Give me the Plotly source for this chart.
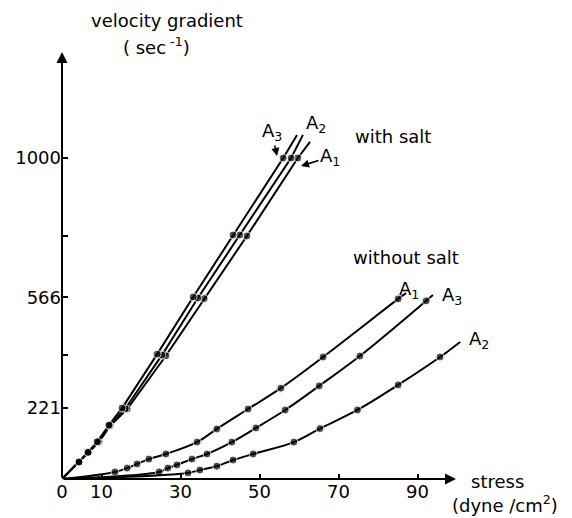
import plotly.graph_objects as go

# ---------------- data ----------------
# with salt: stress (dyne/cm2) vs velocity gradient (sec-1); first = origin, last = line end (no marker)
salt_A1_x = [0, 4.3, 6.6, 9.4, 12.2, 16.5, 26.3, 36.0, 46.8, 59.7, 62.8]
salt_A1_y = [0, 53, 83, 116, 166, 218, 384, 562, 757, 1000, 1050]
salt_A2_x = [0, 4.3, 6.6, 9.2, 12.0, 16.0, 25.3, 34.4, 45.0, 58.0, 61.0]
salt_A2_y = [0, 53, 83, 116, 166, 219, 386, 564, 760, 1000, 1072]
salt_A3_x = [0, 4.3, 6.6, 8.9, 11.9, 15.2, 24.1, 33.2, 43.3, 56.0, 59.5]
salt_A3_y = [0, 53, 83, 116, 168, 221, 389, 567, 760, 1000, 1072]

# without salt
nosalt_A1_x = [0, 13.4, 16.5, 19.0, 22.0, 26.3, 34.2, 39.2, 47.1, 55.4, 66.1, 85.1, 87.1]
nosalt_A1_y = [0, 22, 34, 47, 62, 78, 115, 156, 218, 283, 380, 561, 579]
nosalt_A3_x = [0, 24.6, 26.8, 29.1, 32.9, 36.7, 43.0, 49.1, 56.5, 65.1, 75.4, 92.2, 93.9]
nosalt_A3_y = [0, 22, 34, 44, 62, 78, 115, 159, 215, 290, 383, 555, 573]
nosalt_A2_x = [0, 31.9, 34.9, 39.2, 43.3, 48.4, 58.7, 65.3, 74.8, 85.1, 95.7, 100.8]
nosalt_A2_y = [0, 19, 28, 40, 59, 78, 115, 157, 215, 293, 380, 427]

x_tick_vals = [0, 10, 30, 50, 70, 90]
x_tick_text = ["0", "10", "30", "50", "70", "90"]
y_tick_vals = [221, 386, 566, 757, 1000]
y_tick_text = ["221", "", "566", "", "1000"]

# ---------------- layout geometry ----------------
# the page body has an 8px margin, so the figure is a bit smaller than the window
OFF = 8
W, H = 564, 510
AXIS_X_PAGE, AXIS_Y_PAGE = 62, 479
L = AXIS_X_PAGE - OFF
B = H - (AXIS_Y_PAGE - OFF)
PLOT_W = W - L
PLOT_H = H - B
PX_PER_X = 3.95
PX_PER_Y = 0.321
XMAX = PLOT_W / PX_PER_X
YMAX = PLOT_H / PX_PER_Y


def px2x(px):
    return (px - AXIS_X_PAGE) / PX_PER_X


def px2y(py):
    return (AXIS_Y_PAGE - py) / PX_PER_Y


def px2paperx(px):
    return (px - AXIS_X_PAGE) / PLOT_W


def px2papery(py):
    return (AXIS_Y_PAGE - py) / PLOT_H


FONT = "DejaVu Sans"
FS = 18
BLACK = "#000000"

fig = go.Figure()


def add_series(xs, ys, spline, msize):
    sizes = [0] + [msize] * (len(xs) - 2) + [0]
    fig.add_trace(go.Scatter(
        x=xs, y=ys, mode="lines+markers",
        line=dict(color=BLACK, width=2, shape="spline" if spline else "linear",
                  smoothing=1.0 if spline else 0),
        marker=dict(color=BLACK, size=sizes),
        showlegend=False, hoverinfo="skip", cliponaxis=False,
    ))


add_series(salt_A1_x, salt_A1_y, False, 8)
add_series(salt_A2_x, salt_A2_y, False, 8)
add_series(salt_A3_x, salt_A3_y, False, 8)
add_series(nosalt_A1_x, nosalt_A1_y, True, 8)
add_series(nosalt_A3_x, nosalt_A3_y, True, 8)
add_series(nosalt_A2_x, nosalt_A2_y, True, 8)

annotations = []

# axes drawn as arrows
annotations.append(dict(x=px2x(456), y=0, ax=0, ay=0, xref="x", yref="y", axref="x", ayref="y",
                        text="", showarrow=True, arrowhead=2, arrowsize=1.1, arrowwidth=2,
                        arrowcolor=BLACK))
annotations.append(dict(x=0, y=px2y(52), ax=0, ay=0, xref="x", yref="y", axref="x", ayref="y",
                        text="", showarrow=True, arrowhead=2, arrowsize=1.1, arrowwidth=2,
                        arrowcolor=BLACK))


def label(text, px, py, size=FS, xanchor="center"):
    annotations.append(dict(x=px2paperx(px), y=px2papery(py), xref="paper", yref="paper",
                            text=text, showarrow=False, xanchor=xanchor, yanchor="middle",
                            font=dict(family=FONT, size=size, color=BLACK)))


label("velocity gradient", 167, 21)
label("( sec<sup> -1</sup>)", 156, 46)
label("stress", 497, 481)
label("(dyne /cm<sup>2</sup>)", 505, 504)
label("with salt", 393, 136)
label("without salt", 406, 257)
label("A<sub>2</sub>", 316, 124)
label("A<sub>1</sub>", 409, 290)
label("A<sub>3</sub>", 452, 296)
label("A<sub>2</sub>", 479, 340)

# with-salt A1 with arrow pointing to line
annotations.append(dict(x=px2x(301), y=px2y(166), xref="x", yref="y",
                        ax=px2x(330), ay=px2y(157), axref="x", ayref="y",
                        text="A<sub>1</sub>", showarrow=True, arrowhead=2, arrowsize=1,
                        arrowwidth=1.6, arrowcolor=BLACK, standoff=0,
                        font=dict(family=FONT, size=FS, color=BLACK)))
# with-salt A3 with arrow pointing down to point
annotations.append(dict(x=px2x(277), y=px2y(156), xref="x", yref="y",
                        ax=px2x(272), ay=px2y(132), axref="x", ayref="y",
                        text="A<sub>3</sub>", showarrow=True, arrowhead=2, arrowsize=1,
                        arrowwidth=1.6, arrowcolor=BLACK, standoff=0,
                        font=dict(family=FONT, size=FS, color=BLACK)))

fig.update_layout(
    width=W, height=H,
    margin=dict(l=L, r=0, t=0, b=B, pad=0, autoexpand=False),
    paper_bgcolor="white", plot_bgcolor="white",
    font=dict(family=FONT, size=FS, color=BLACK),
    annotations=annotations,
    xaxis=dict(range=[0, XMAX], tickvals=x_tick_vals, ticktext=x_tick_text,
               ticks="inside", ticklen=5, tickwidth=1.5, tickcolor=BLACK,
               showgrid=False, zeroline=False, showline=False, automargin=False,
               tickfont=dict(family=FONT, size=FS, color=BLACK)),
    yaxis=dict(range=[0, YMAX], tickvals=y_tick_vals, ticktext=y_tick_text,
               ticks="inside", ticklen=6, tickwidth=1.5, tickcolor=BLACK,
               showgrid=False, zeroline=False, showline=False, automargin=False,
               tickfont=dict(family=FONT, size=FS, color=BLACK)),
)

fig.write_html("out.html")
